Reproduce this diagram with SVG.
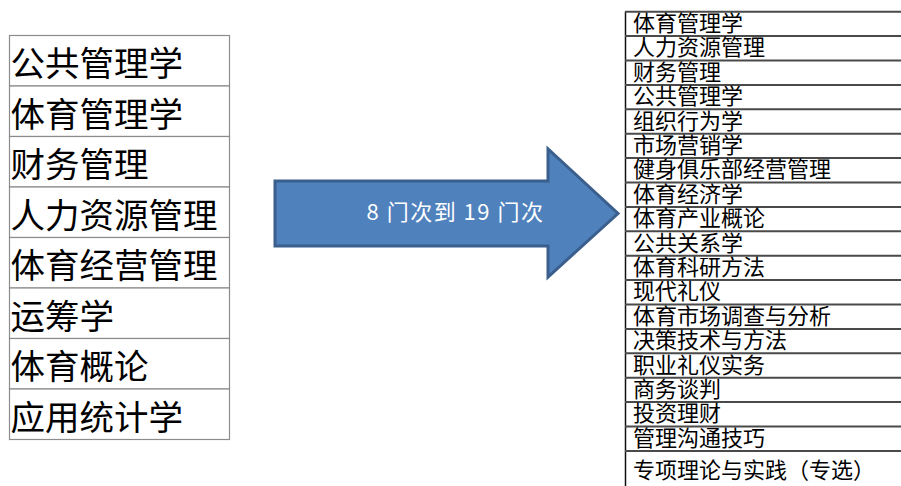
<svg xmlns="http://www.w3.org/2000/svg" width="901" height="486" viewBox="0 0 901 486">
<style>
.lcell{fill:#ffffff;stroke:#8c8c8c;stroke-width:1.2}
.ltxt{font-family:"Noto Sans CJK SC","Liberation Sans",sans-serif;font-size:34.5px;fill:#000000}
.rline{stroke:#4a4a4a;stroke-width:2}
.rtxt{font-family:"Noto Sans CJK SC","Liberation Sans",sans-serif;font-size:22px;fill:#000000}
.atxt{font-family:"Noto Sans CJK SC","Liberation Sans",sans-serif;font-size:22px;fill:#ffffff;letter-spacing:1.5px}
</style>
<rect width="901" height="486" fill="#ffffff"/>
<g id="left-table">
<g id="l1"><rect class="lcell" x="9.5" y="35.5" width="220" height="50.5"/><text class="ltxt" x="10.5" y="76">公共管理学</text></g>
<g id="l2"><rect class="lcell" x="9.5" y="86" width="220" height="50.5"/><text class="ltxt" x="10.5" y="126.5">体育管理学</text></g>
<g id="l3"><rect class="lcell" x="9.5" y="136.5" width="220" height="50.5"/><text class="ltxt" x="10.5" y="177">财务管理</text></g>
<g id="l4"><rect class="lcell" x="9.5" y="187" width="220" height="50.5"/><text class="ltxt" x="10.5" y="227.5">人力资源管理</text></g>
<g id="l5"><rect class="lcell" x="9.5" y="237.5" width="220" height="50.5"/><text class="ltxt" x="10.5" y="278">体育经营管理</text></g>
<g id="l6"><rect class="lcell" x="9.5" y="288" width="220" height="50.5"/><text class="ltxt" x="10.5" y="328.5">运筹学</text></g>
<g id="l7"><rect class="lcell" x="9.5" y="338.5" width="220" height="50.5"/><text class="ltxt" x="10.5" y="379">体育概论</text></g>
<g id="l8"><rect class="lcell" x="9.5" y="389" width="220" height="50.5"/><text class="ltxt" x="10.5" y="429.5">应用统计学</text></g>
</g>
<g id="connectors">
<g id="arrow">
<path d="M275,181 L548,181 L548,149 L618,213.5 L548,277 L548,246 L275,246 Z" fill="#4f81bd" stroke="#3b5f8c" stroke-width="3" stroke-linejoin="miter"/>
<text class="atxt" x="455.5" y="220" text-anchor="middle">8 门次到 19 门次</text>
</g>
</g>
<g id="right-table">
<line x1="625.5" y1="11.5" x2="625.5" y2="486" stroke="#111" stroke-width="1.5"/>
<line class="rline" x1="625" y1="11.7" x2="905" y2="11.7"/>
<g id="r1"><text class="rtxt" x="633" y="31">体育管理学</text><line class="rline" x1="625" y1="36.1" x2="905" y2="36.1"/></g>
<g id="r2"><text class="rtxt" x="633" y="55.4">人力资源管理</text><line class="rline" x1="625" y1="60.5" x2="905" y2="60.5"/></g>
<g id="r3"><text class="rtxt" x="633" y="79.8">财务管理</text><line class="rline" x1="625" y1="84.9" x2="905" y2="84.9"/></g>
<g id="r4"><text class="rtxt" x="633" y="104.2">公共管理学</text><line class="rline" x1="625" y1="109.3" x2="905" y2="109.3"/></g>
<g id="r5"><text class="rtxt" x="633" y="128.6">组织行为学</text><line class="rline" x1="625" y1="133.7" x2="905" y2="133.7"/></g>
<g id="r6"><text class="rtxt" x="633" y="153">市场营销学</text><line class="rline" x1="625" y1="158.1" x2="905" y2="158.1"/></g>
<g id="r7"><text class="rtxt" x="633" y="177.4">健身俱乐部经营管理</text><line class="rline" x1="625" y1="182.5" x2="905" y2="182.5"/></g>
<g id="r8"><text class="rtxt" x="633" y="201.8">体育经济学</text><line class="rline" x1="625" y1="206.9" x2="905" y2="206.9"/></g>
<g id="r9"><text class="rtxt" x="633" y="226.2">体育产业概论</text><line class="rline" x1="625" y1="231.3" x2="905" y2="231.3"/></g>
<g id="r10"><text class="rtxt" x="633" y="250.6">公共关系学</text><line class="rline" x1="625" y1="255.7" x2="905" y2="255.7"/></g>
<g id="r11"><text class="rtxt" x="633" y="275">体育科研方法</text><line class="rline" x1="625" y1="280.1" x2="905" y2="280.1"/></g>
<g id="r12"><text class="rtxt" x="633" y="299.4">现代礼仪</text><line class="rline" x1="625" y1="304.5" x2="905" y2="304.5"/></g>
<g id="r13"><text class="rtxt" x="633" y="323.8">体育市场调查与分析</text><line class="rline" x1="625" y1="328.9" x2="905" y2="328.9"/></g>
<g id="r14"><text class="rtxt" x="633" y="348.2">决策技术与方法</text><line class="rline" x1="625" y1="353.3" x2="905" y2="353.3"/></g>
<g id="r15"><text class="rtxt" x="633" y="372.6">职业礼仪实务</text><line class="rline" x1="625" y1="377.7" x2="905" y2="377.7"/></g>
<g id="r16"><text class="rtxt" x="633" y="397">商务谈判</text><line class="rline" x1="625" y1="402.1" x2="905" y2="402.1"/></g>
<g id="r17"><text class="rtxt" x="633" y="421.4">投资理财</text><line class="rline" x1="625" y1="426.5" x2="905" y2="426.5"/></g>
<g id="r18"><text class="rtxt" x="633" y="445.8">管理沟通技巧</text><line class="rline" x1="625" y1="450.9" x2="905" y2="450.9"/></g>
<g id="r19"><text class="rtxt" x="633" y="477.5">专项理论与实践（专选）</text></g>
</g>
</svg>
